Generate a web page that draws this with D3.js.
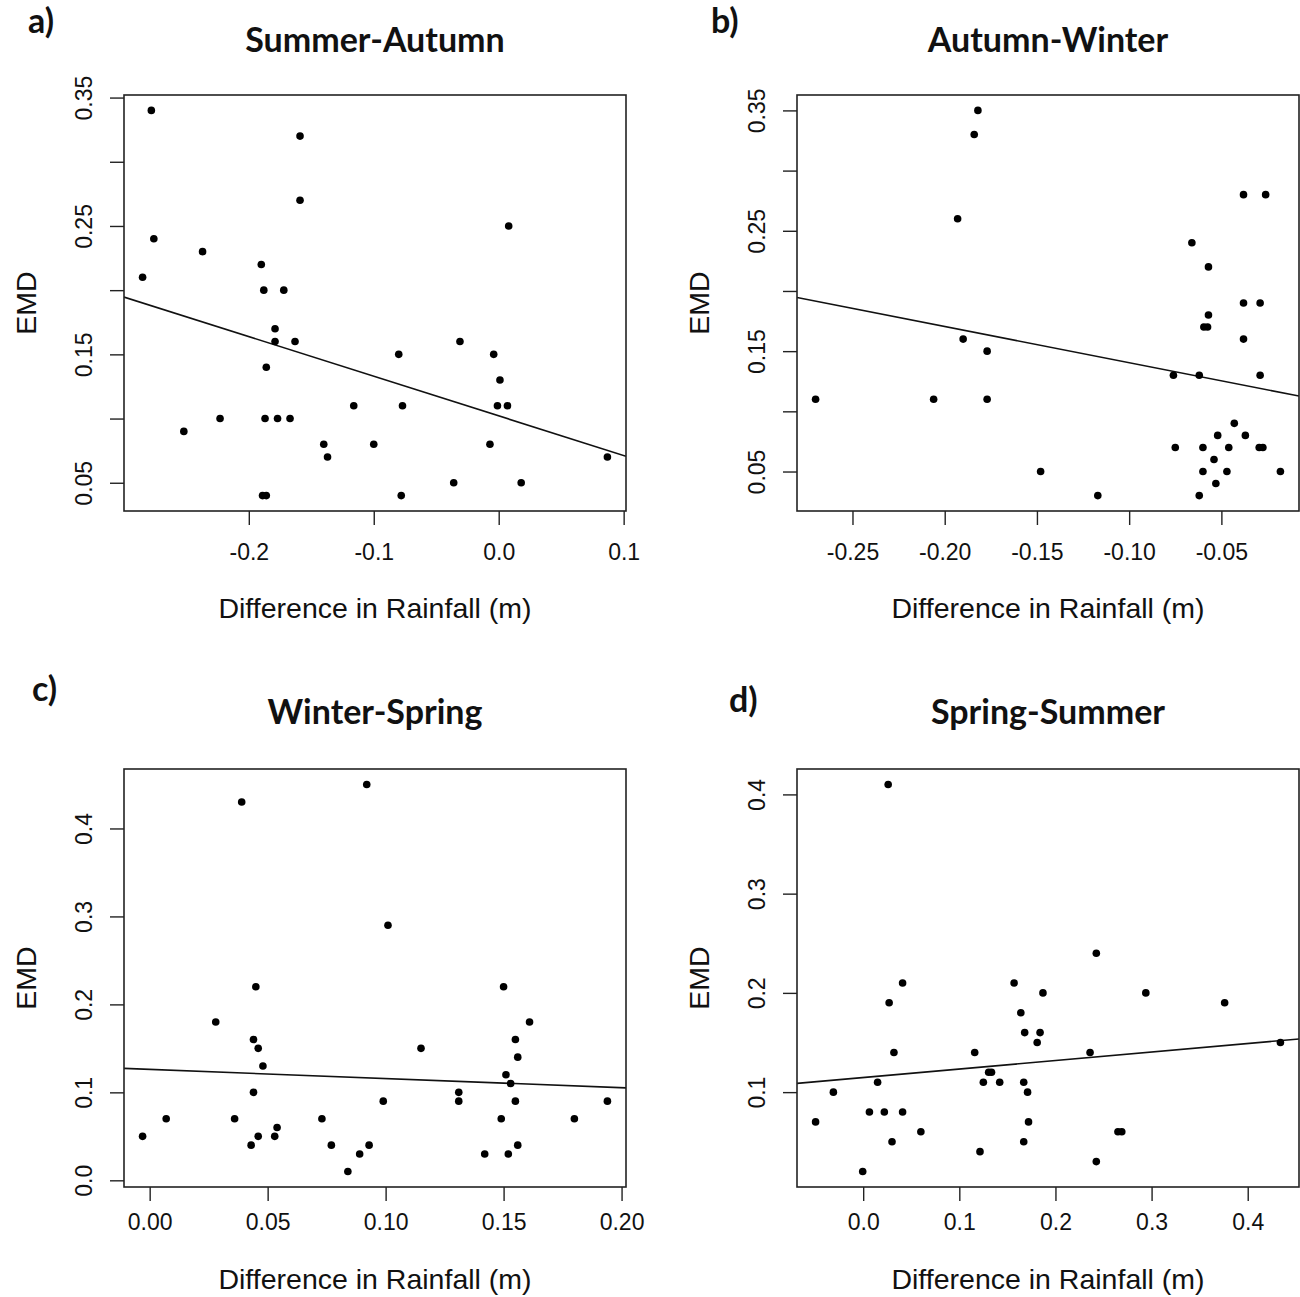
<!DOCTYPE html>
<html>
<head>
<meta charset="utf-8">
<script src="https://cdn.jsdelivr.net/npm/d3@7"></script>
<style>
    body { margin: 0; background: #fff; }
    svg text { font-family: "Liberation Sans", Arial, sans-serif; fill: #111; }
    .tag, .title { font-family: Lato, "Open Sans", sans-serif; font-weight: bold; }
</style>
</head>
<body>
<svg id="chart" width="1300" height="1297"></svg>
<script>
(function () {
    "use strict";

    // a) Summer-Autumn
    const saX = [-0.278, -0.159, -0.159, 0.008, -0.276, -0.237, -0.190, -0.285, -0.188, -0.172,
        -0.179, -0.179, -0.163, -0.031, -0.080, -0.004, -0.186, 0.001, -0.116, -0.077,
        -0.001, 0.007, -0.223, -0.187, -0.177, -0.167, -0.252, -0.140, -0.100, -0.007,
        -0.137, 0.087, -0.036, 0.018, -0.189, -0.186, -0.078];
    const saY = [0.34, 0.32, 0.27, 0.25, 0.24, 0.23, 0.22, 0.21, 0.20, 0.20,
        0.17, 0.16, 0.16, 0.16, 0.15, 0.15, 0.14, 0.13, 0.11, 0.11,
        0.11, 0.11, 0.10, 0.10, 0.10, 0.10, 0.09, 0.08, 0.08, 0.08,
        0.07, 0.07, 0.05, 0.05, 0.04, 0.04, 0.04];
    const saFit = [0.1021, -0.3086]; // intercept, slope

    // b) Autumn-Winter
    const awX = [-0.182, -0.184, -0.193, -0.038, -0.026, -0.066, -0.057, -0.038, -0.029, -0.057,
        -0.0595, -0.0575, -0.190, -0.038, -0.177, -0.076, -0.062, -0.029, -0.270, -0.206,
        -0.177, -0.043, -0.052, -0.037, -0.075, -0.060, -0.046, -0.0295, -0.0275, -0.054,
        -0.148, -0.060, -0.047, -0.018, -0.053, -0.117, -0.062];
    const awY = [0.35, 0.33, 0.26, 0.28, 0.28, 0.24, 0.22, 0.19, 0.19, 0.18,
        0.17, 0.17, 0.16, 0.16, 0.15, 0.13, 0.13, 0.13, 0.11, 0.11,
        0.11, 0.09, 0.08, 0.08, 0.07, 0.07, 0.07, 0.07, 0.07, 0.06,
        0.05, 0.05, 0.05, 0.05, 0.04, 0.03, 0.03];
    const awFit = [0.1103, -0.301];

    // c) Winter-Spring
    const wsX = [0.092, 0.039, 0.101, 0.045, 0.150, 0.028, 0.161, 0.044, 0.155, 0.046,
        0.115, 0.156, 0.048, 0.151, 0.153, 0.044, 0.131, 0.099, 0.131, 0.155,
        0.194, 0.007, 0.036, 0.073, 0.149, 0.180, 0.054, -0.003, 0.046, 0.053,
        0.043, 0.077, 0.093, 0.156, 0.089, 0.142, 0.152, 0.084];
    const wsY = [0.45, 0.43, 0.29, 0.22, 0.22, 0.18, 0.18, 0.16, 0.16, 0.15,
        0.15, 0.14, 0.13, 0.12, 0.11, 0.10, 0.10, 0.09, 0.09, 0.09,
        0.09, 0.07, 0.07, 0.07, 0.07, 0.07, 0.06, 0.05, 0.05, 0.05,
        0.04, 0.04, 0.04, 0.04, 0.03, 0.03, 0.03, 0.01];
    const wsFit = [0.1261, -0.1038];

    // d) Spring-Summer
    const ssX = [0.026, 0.2425, 0.041, 0.157, 0.187, 0.294, 0.027, 0.376, 0.164, 0.168,
        0.184, 0.181, 0.434, 0.032, 0.116, 0.236, 0.1305, 0.1335, 0.015, 0.125,
        0.142, 0.167, -0.031, 0.171, 0.0065, 0.022, 0.041, -0.0495, 0.172, 0.060,
        0.265, 0.269, 0.030, 0.167, 0.1215, 0.2425, -0.0005];
    const ssY = [0.41, 0.24, 0.21, 0.21, 0.20, 0.20, 0.19, 0.19, 0.18, 0.16,
        0.16, 0.15, 0.15, 0.14, 0.14, 0.14, 0.12, 0.12, 0.11, 0.11,
        0.11, 0.11, 0.10, 0.10, 0.08, 0.08, 0.08, 0.07, 0.07, 0.06,
        0.06, 0.06, 0.05, 0.05, 0.04, 0.03, 0.02];
    const ssFit = [0.1147, 0.0857];

    // ticks ("" = tick without label, as R drops crowded labels)
    const saXTicks = [-0.2, -0.1, 0.0, 0.1];
    const saXLabels = ["-0.2", "-0.1", "0.0", "0.1"];
    const awXTicks = [-0.25, -0.20, -0.15, -0.10, -0.05];
    const awXLabels = ["-0.25", "-0.20", "-0.15", "-0.10", "-0.05"];
    const emdTicks = [0.05, 0.10, 0.15, 0.20, 0.25, 0.30, 0.35];
    const emdLabels = ["0.05", "", "0.15", "", "0.25", "", "0.35"];
    const wsXTicks = [0.00, 0.05, 0.10, 0.15, 0.20];
    const wsXLabels = ["0.00", "0.05", "0.10", "0.15", "0.20"];
    const wsYTicks = [0.0, 0.1, 0.2, 0.3, 0.4];
    const wsYLabels = ["0.0", "0.1", "0.2", "0.3", "0.4"];
    const ssXTicks = [0.0, 0.1, 0.2, 0.3, 0.4];
    const ssXLabels = ["0.0", "0.1", "0.2", "0.3", "0.4"];
    const ssYTicks = [0.1, 0.2, 0.3, 0.4];
    const ssYLabels = ["0.1", "0.2", "0.3", "0.4"];

    const panels = [
        { tag: "a)", title: "Summer-Autumn", xs: saX, ys: saY, fit: saFit,
          xTicks: saXTicks, xLabels: saXLabels, yTicks: emdTicks, yLabels: emdLabels, col: 0, row: 0 },
        { tag: "b)", title: "Autumn-Winter", xs: awX, ys: awY, fit: awFit,
          xTicks: awXTicks, xLabels: awXLabels, yTicks: emdTicks, yLabels: emdLabels, col: 1, row: 0 },
        { tag: "c)", title: "Winter-Spring", xs: wsX, ys: wsY, fit: wsFit,
          xTicks: wsXTicks, xLabels: wsXLabels, yTicks: wsYTicks, yLabels: wsYLabels, col: 0, row: 1 },
        { tag: "d)", title: "Spring-Summer", xs: ssX, ys: ssY, fit: ssFit,
          xTicks: ssXTicks, xLabels: ssXLabels, yTicks: ssYTicks, yLabels: ssYLabels, col: 1, row: 1 }
    ];

    // layout
    const colLeft = [124, 797];
    const rowTop = [95, 769];
    const boxW = 502;
    const rowH = [416, 418];
    const tickLabelGap = [41, 35];
    const axisTitleGap = [97, 92];
    const titleY = [40, 712];
    const tagPos = [[28, 33], [711, 33], [32, 701], [729, 712]];

    const svg = d3.select("#chart");

    // R style: data range padded by 4% on each side
    function rDomain(values) {
        const ext = d3.extent(values);
        const pad = (ext[1] - ext[0]) * 0.04;
        return [ext[0] - pad, ext[1] + pad];
    }

    panels.forEach(function (p, i) {
        const left = colLeft[p.col];
        const top = rowTop[p.row];
        const h = rowH[p.row];

        const x = d3.scaleLinear().domain(rDomain(p.xs)).range([0, boxW]);
        const y = d3.scaleLinear().domain(rDomain(p.ys)).range([h, 0]);

        const g = svg.append("g").attr("transform", `translate(${left},${top})`);

        const xAxis = g.append("g")
            .attr("transform", `translate(0,${h})`)
            .call(d3.axisBottom(x).tickValues(p.xTicks)
                .tickFormat((d, k) => p.xLabels[k]).tickSize(14).tickSizeOuter(0));
        xAxis.select(".domain").remove();
        xAxis.selectAll("line").attr("stroke", "#222").attr("stroke-width", 1.4);
        xAxis.selectAll("text")
            .attr("y", tickLabelGap[p.row]).attr("dy", "0.35em")
            .attr("fill", "#111").style("font-size", "23px")
            .style("font-family", '"Liberation Sans", Arial, sans-serif');

        const yAxis = g.append("g")
            .call(d3.axisLeft(y).tickValues(p.yTicks)
                .tickFormat((d, k) => p.yLabels[k]).tickSize(14).tickSizeOuter(0));
        yAxis.select(".domain").remove();
        yAxis.selectAll("line").attr("stroke", "#222").attr("stroke-width", 1.4);
        yAxis.selectAll("text")
            .attr("x", null).attr("dy", "0.35em")
            .attr("text-anchor", "middle")
            .attr("transform", "translate(-40,0) rotate(-90)")
            .attr("fill", "#111").style("font-size", "23px")
            .style("font-family", '"Liberation Sans", Arial, sans-serif');

        // regression line clipped to the plot box
        const clipId = "clip" + i;
        g.append("clipPath").attr("id", clipId)
            .append("rect").attr("width", boxW).attr("height", h);
        const xd = x.domain();
        const lineData = xd.map(v => [v, p.fit[0] + p.fit[1] * v]);
        g.append("path")
            .datum(lineData)
            .attr("clip-path", `url(#${clipId})`)
            .attr("fill", "none")
            .attr("stroke", "#111")
            .attr("stroke-width", 1.6)
            .attr("d", d3.line().x(d => x(d[0])).y(d => y(d[1])));

        g.selectAll("circle.pt")
            .data(p.xs.map((v, k) => [v, p.ys[k]]))
            .join("circle")
            .attr("class", "pt")
            .attr("cx", d => x(d[0]))
            .attr("cy", d => y(d[1]))
            .attr("r", 3.8)
            .attr("fill", "#000");

        g.append("rect")
            .attr("width", boxW).attr("height", h)
            .attr("fill", "none").attr("stroke", "#222").attr("stroke-width", 1.6);

        // axis titles
        g.append("text")
            .attr("x", boxW / 2).attr("y", h + axisTitleGap[p.row]).attr("dy", "0.35em")
            .attr("text-anchor", "middle")
            .style("font-size", "28.5px")
            .text("Difference in Rainfall (m)");

        g.append("text")
            .attr("transform", `translate(-98,${h / 2}) rotate(-90)`)
            .attr("dy", "0.35em")
            .attr("text-anchor", "middle")
            .style("font-size", "28.5px")
            .text("EMD");

        svg.append("text")
            .attr("class", "title")
            .attr("x", left + boxW / 2).attr("y", titleY[p.row])
            .attr("dy", "0.35em")
            .attr("text-anchor", "middle")
            .style("font-size", "34px")
            .text(p.title);

        svg.append("text")
            .attr("class", "tag")
            .attr("x", tagPos[i][0]).attr("y", tagPos[i][1])
            .style("font-size", "34px")
            .text(p.tag);
    });
}());
</script>
</body>
</html>
